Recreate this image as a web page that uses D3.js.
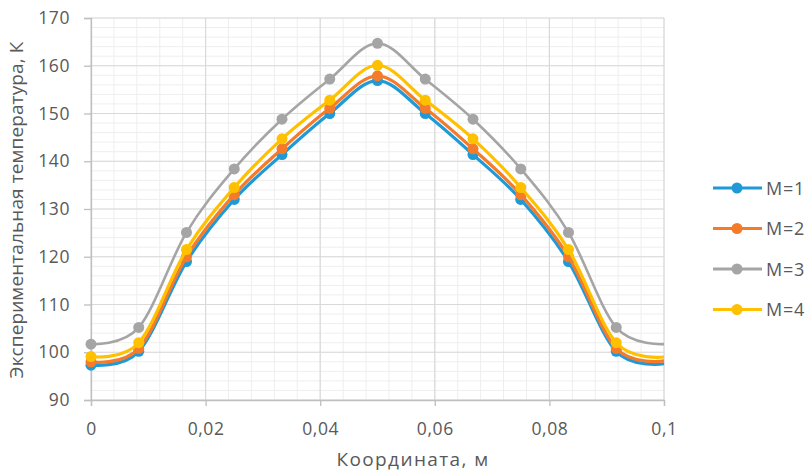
<!DOCTYPE html>
<html><head><meta charset="utf-8">
<script src="https://cdn.jsdelivr.net/npm/d3@7"></script>
<style>body{margin:0;background:#fff}svg{display:block}text{font-family:"Open Sans",sans-serif}</style>
</head><body><svg id="c" width="807" height="473"></svg>
<script>
const xs = [0, 0.008333, 0.016667, 0.025, 0.033333, 0.041667, 0.05, 0.058333, 0.066667, 0.075, 0.083333, 0.091667, 0.1];
const m1 = [97.3, 100.2, 119.0, 132.0, 141.4, 150.0, 156.9, 150.0, 141.4, 132.0, 119.0, 100.2, 97.6];
const m2 = [98.0, 100.8, 120.0, 133.0, 142.6, 151.1, 157.9, 151.1, 142.6, 133.0, 120.0, 100.8, 98.2];
const m3 = [101.7, 105.2, 125.1, 138.4, 148.8, 157.2, 164.7, 157.2, 148.8, 138.4, 125.1, 105.2, 101.7];
const m4 = [99.1, 102.0, 121.5, 134.5, 144.7, 152.8, 160.1, 152.8, 144.7, 134.5, 121.5, 102.0, 99.0];
const seriesNames = ["М=1", "М=2", "М=3", "М=4"];
const seriesColors = ["#1f9ad7", "#f47b2a", "#a5a5a5", "#ffc000"];
const xTicks = [0, 0.02, 0.04, 0.06, 0.08, 0.1];
const yTicks = [90, 100, 110, 120, 130, 140, 150, 160, 170];
const xLabel = "Координата, м";
const yLabel = "Экспериментальная температура, К";

const svg = d3.select("#c");
const L = 91, R = 664, T = 18, B = 400;
const x = d3.scaleLinear().domain([0, 0.1]).range([L, R]);
const y = d3.scaleLinear().domain([90, 170]).range([B, T]);
const fmt = v => v === 0 ? "0" : String(+v.toFixed(2)).replace(".", ",");

const g = svg.append("g");
// minor grid
g.selectAll(".mx").data(d3.range(0, 0.1001, 0.004)).join("line")
  .attr("x1", d => x(d)).attr("x2", d => x(d)).attr("y1", T).attr("y2", B)
  .attr("stroke", "#eeeeee").attr("stroke-width", 1);
g.selectAll(".my").data(d3.range(90, 170.1, 2)).join("line")
  .attr("x1", L).attr("x2", R).attr("y1", d => y(d)).attr("y2", d => y(d))
  .attr("stroke", "#eeeeee").attr("stroke-width", 1);
// major grid
g.selectAll(".Mx").data(xTicks).join("line")
  .attr("x1", d => x(d)).attr("x2", d => x(d)).attr("y1", T).attr("y2", B)
  .attr("stroke", "#d9d9d9").attr("stroke-width", 1.2);
g.selectAll(".My").data(yTicks).join("line")
  .attr("x1", L).attr("x2", R).attr("y1", d => y(d)).attr("y2", d => y(d))
  .attr("stroke", "#d9d9d9").attr("stroke-width", 1.2);

// axes
const xa = svg.append("g").attr("transform", `translate(0,${B})`)
  .call(d3.axisBottom(x).tickValues(xTicks).tickFormat(fmt).tickSize(6).tickPadding(17));
const ya = svg.append("g").attr("transform", `translate(${L},0)`)
  .call(d3.axisLeft(y).tickValues(yTicks).tickSize(7).tickPadding(14));
[xa, ya].forEach(a => {
  a.select(".domain").attr("stroke", "#bfbfbf").attr("stroke-width", 1.3);
  a.selectAll(".tick line").attr("stroke", "#bfbfbf").attr("stroke-width", 1.3);
  a.selectAll("text").attr("fill", "#595959").style("font-size", "17.5px")
    .style("letter-spacing", "0.6px").style("font-family", "'Open Sans',sans-serif");
});

// lines
const all = [m1, m2, m3, m4];
const line = d3.line().x((d, i) => x(xs[i])).y(d => y(d)).curve(d3.curveCatmullRom.alpha(0));
all.forEach((s, k) => {
  const sg = svg.append("g");
  sg.append("path").datum(s).attr("d", line).attr("fill", "none")
    .attr("stroke", seriesColors[k]).attr("stroke-width", k === 2 ? 2.6 : 3.2).attr("stroke-linejoin", "round");
  sg.selectAll("circle").data(s.slice(0, s.length - 1)).join("circle")
    .attr("cx", (d, i) => x(xs[i])).attr("cy", d => y(d)).attr("r", 5.5)
    .attr("fill", seriesColors[k]);
});

// legend
const lg = svg.append("g");
seriesNames.forEach((n, k) => {
  const yy = 188 + k * 40.5;
  lg.append("line").attr("x1", 713).attr("x2", 762).attr("y1", yy).attr("y2", yy)
    .attr("stroke", seriesColors[k]).attr("stroke-width", 3);
  lg.append("circle").attr("cx", 737).attr("cy", yy).attr("r", 5.5).attr("fill", seriesColors[k]);
  lg.append("text").attr("x", 766).attr("y", yy + 6.5).text(n)
    .attr("fill", "#595959").style("font-size", "18px").style("letter-spacing", "0.8px");
});

// titles
svg.append("text").attr("x", 413).attr("y", 466).attr("text-anchor", "middle")
  .attr("fill", "#595959").style("font-size", "19px").style("letter-spacing", "1.4px").text(xLabel);
svg.append("text").attr("transform", `translate(23,${210}) rotate(-90)`).attr("text-anchor", "middle")
  .attr("fill", "#595959").style("font-size", "19px").style("letter-spacing", "0.1px").text(yLabel);
</script></body></html>
